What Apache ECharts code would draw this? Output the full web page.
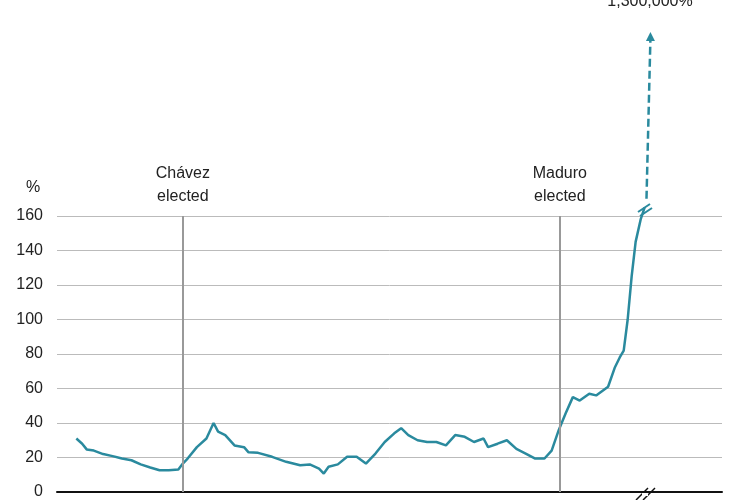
<!DOCTYPE html>
<html>
<head>
<meta charset="utf-8">
<script src="https://cdn.jsdelivr.net/npm/echarts@6/dist/echarts.min.js"></script>
<style>body{margin:0;background:#fff}</style>
</head>
<body>
<div id="main" style="width:740px;height:500px;"></div>
<script>
// year (decimal) and annual inflation, %
const years = [1995.08,1995.30,1995.47,1995.74,1996.09,1996.45,1996.80,1997.16,1997.51,1997.87,1998.22,1998.57,1998.93,1999.10,1999.28,1999.63,1999.99,2000.26,2000.43,2000.70,2001.05,2001.41,2001.58,2001.94,2002.47,2003.00,2003.53,2003.89,2004.24,2004.42,2004.60,2004.95,2005.30,2005.66,2006.01,2006.37,2006.72,2007.08,2007.34,2007.61,2007.96,2008.32,2008.67,2009.03,2009.38,2009.74,2010.09,2010.45,2010.62,2010.98,2011.33,2011.69,2012.04,2012.40,2012.75,2013.02,2013.29,2013.55,2013.82,2014.08,2014.44,2014.70,2014.97,2015.15,2015.40,2015.59,2015.74,2015.89,2016.04,2016.19,2016.38,2016.53];
const inflation = [31,28,24.7,24,22,20.8,19.4,18.4,16,14.2,12.6,12.6,13,16.5,19.4,26,31,40,35,33,27,26,23,22.7,20.4,17.5,15.5,16,13.6,10.7,14.6,16,20.4,20.4,16.5,22.3,29,34,37,33,30,29,29,27,33,32,29,31,26,28,30,25,22.3,19.4,19.4,24,36,45.6,55,53,57,56,59,61,72,78,82,100,125,145,158,165];
const events = [{year: 1999.1, name: 'Chávez\nelected'}, {year: 2013.33, name: 'Maduro\nelected'}];
// dashed jump off the scale (1,300,000%)
const arrowYears = [2016.6, 2016.75];
const arrowValues = [170, 264];
const yTicks = [0, 160, 20];

let myChart = echarts.init(document.getElementById('main'));
const font = 'Liberation Sans, Arial, sans-serif';
myChart.setOption({
    animation: false,
    grid: {left: 57, right: 18, top: 216, bottom: 6},
    xAxis: {
        type: 'value', min: 1994.35, max: 2019.45,
        axisLabel: {show: false}, axisTick: {show: false}, splitLine: {show: false},
        axisLine: {lineStyle: {color: '#111', width: 2}}
    },
    yAxis: {
        type: 'value', min: yTicks[0], max: yTicks[1], interval: yTicks[2],
        axisLabel: {color: '#222', fontSize: 16, fontFamily: font, margin: 14},
        axisLine: {show: false}, axisTick: {show: false},
        splitLine: {lineStyle: {color: '#bbb', width: 1}}
    },
    series: [{
        type: 'line', clip: false, symbol: 'none',
        data: years.map((y, i) => [y, inflation[i]]),
        lineStyle: {color: '#2a8a9e', width: 2.5},
        markLine: {
            silent: true, symbol: 'none',
            lineStyle: {color: '#999', width: 2, type: 'solid'},
            label: {position: 'end', formatter: p => p.name, color: '#222', fontSize: 16, fontFamily: font, lineHeight: 23, distance: 8},
            data: events.map(e => ({xAxis: e.year, name: e.name}))
        }
    }, {
        type: 'line', clip: false, symbolSize: 10,
        data: [
            {value: [arrowYears[0], arrowValues[0]], symbol: 'none'},
            {value: [arrowYears[1], arrowValues[1]], symbol: 'triangle', symbolSize: [9, 9]}
        ],
        itemStyle: {color: '#2a8a9e'},
        lineStyle: {color: '#2a8a9e', width: 2.5, type: [8, 4]}
    }],
    graphic: [
        {type: 'text', left: 26, top: 180, style: {text: '%', fontSize: 16, fontFamily: font, fill: '#222'}},
        {type: 'text', x: 650, y: -6, style: {text: '1,300,000%', fontSize: 16, fontFamily: font, fill: '#222', align: 'center'}},
        {type: 'line', shape: {x1: 638, y1: 212, x2: 650, y2: 204}, style: {stroke: '#2a8a9e', lineWidth: 2}},
        {type: 'line', shape: {x1: 640, y1: 216, x2: 652, y2: 208}, style: {stroke: '#2a8a9e', lineWidth: 2}},
        {type: 'line', shape: {x1: 636, y1: 500, x2: 648, y2: 488}, style: {stroke: '#111', lineWidth: 1.5}},
        {type: 'line', shape: {x1: 643, y1: 500, x2: 655, y2: 488}, style: {stroke: '#111', lineWidth: 1.5}},
        {type: 'rect', shape: {x: 642, y: 493, width: 6, height: 3}, style: {fill: '#fff'}}
    ]
});
</script>
</body>
</html>
